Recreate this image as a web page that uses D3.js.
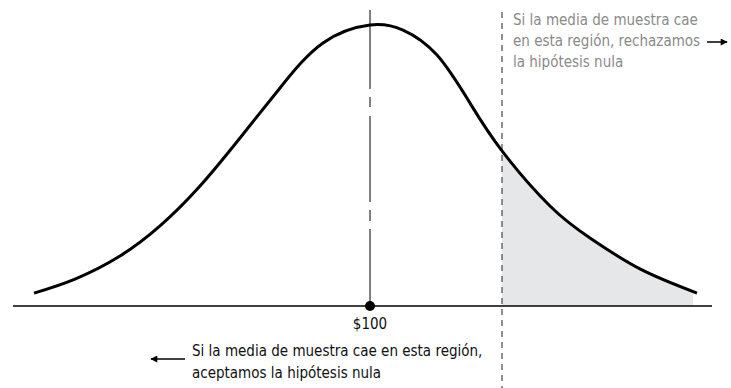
<!DOCTYPE html>
<html>
<head>
<meta charset="utf-8">
<script src="https://cdn.jsdelivr.net/npm/d3@7"></script>
<style>
  body { margin: 0; background: #fff; }
  .chart { width: 731px; height: 388px; }
  text { font-family: "Liberation Sans Narrow", "Arial Narrow", "DejaVu Sans Condensed", sans-serif; }
</style>
</head>
<body>
<div class="chart"></div>
<script>
// curve: z (standard deviations from the mean) and relative height
const zValues = [-2.688, -2.36, -2.0, -1.68, -1.36, -1.04, -0.72, -0.376, 0, 0.264, 0.536, 0.80, 1.056, 1.44, 1.76, 2.16, 2.616]
const heights = [0.046, 0.096, 0.178, 0.285, 0.427, 0.598, 0.776, 0.936, 1, 0.982, 0.893, 0.722, 0.552, 0.356, 0.242, 0.132, 0.046]

const meanLabel = '$100'
const criticalZ = 1.056
const shadeEndZ = 2.584
const axisExtent = [-2.856, 2.736]

const rejectText = ['Si la media de muestra cae', 'en esta región, rechazamos', 'la hipótesis nula']
const acceptText = ['Si la media de muestra cae en esta región,', 'aceptamos la hipótesis nula']

const data = zValues.map((z, i) => ({ z: z, h: heights[i] }))

const width = 731
const height = 388

const $chart = d3.select('.chart')
$chart.selectAll('*').remove()

const svg = $chart.append('svg')
  .attr('width', width)
  .attr('height', height)

// scales
const x = d3.scaleLinear()
  .domain([-3, 3])
  .range([-5, 745])

const y = d3.scaleLinear()
  .domain([0, 1])
  .range([306, 25])

const defs = svg.append('defs')

defs.append('clipPath')
  .attr('id', 'tail')
  .append('rect')
  .attr('x', x(criticalZ))
  .attr('y', 0)
  .attr('width', x(shadeEndZ) - x(criticalZ))
  .attr('height', height)

defs.append('marker')
  .attr('id', 'head')
  .attr('viewBox', '0 0 10 10')
  .attr('refX', 9)
  .attr('refY', 5)
  .attr('markerWidth', 9)
  .attr('markerHeight', 7)
  .attr('markerUnits', 'userSpaceOnUse')
  .attr('orient', 'auto')
  .append('path')
  .attr('d', 'M0,0 L10,5 L0,10 Z')
  .attr('fill', '#000')

const curve = d3.curveNatural

// shaded rejection region
svg.append('path')
  .datum(data)
  .attr('clip-path', 'url(#tail)')
  .attr('fill', '#e6e7e8')
  .attr('d', d3.area()
    .x(d => x(d.z))
    .y0(y(0))
    .y1(d => y(d.h))
    .curve(curve))

// baseline axis
svg.append('g')
  .attr('transform', `translate(0, ${y(0)})`)
  .call(d3.axisBottom(x).tickValues([]).tickSizeOuter(0))
  .call(g => g.select('.domain')
    .attr('d', `M${x(axisExtent[0])},0H${x(axisExtent[1])}`)
    .attr('stroke', '#000')
    .attr('stroke-width', 1.5))

// centre line at the mean
svg.append('line')
  .attr('x1', x(0))
  .attr('x2', x(0))
  .attr('y1', 10)
  .attr('y2', y(0))
  .attr('stroke', '#000')
  .attr('stroke-width', 1)
  .attr('stroke-dasharray', '79,8,10,9,86,8,11,8,200')

// critical value line
svg.append('line')
  .attr('x1', x(criticalZ))
  .attr('x2', x(criticalZ))
  .attr('y1', 12)
  .attr('y2', height)
  .attr('stroke', '#222')
  .attr('stroke-width', 1)
  .attr('stroke-dasharray', '6,5')

// the normal curve
svg.append('path')
  .datum(data)
  .attr('fill', 'none')
  .attr('stroke', '#000')
  .attr('stroke-width', 3)
  .attr('d', d3.line()
    .x(d => x(d.z))
    .y(d => y(d.h))
    .curve(curve))

svg.append('circle')
  .attr('cx', x(0))
  .attr('cy', y(0))
  .attr('r', 5)
  .attr('fill', '#000')

svg.append('text')
  .attr('x', x(0))
  .attr('y', 329)
  .attr('text-anchor', 'middle')
  .attr('font-size', 15)
  .attr('fill', '#111')
  .text(meanLabel)

// rejection note
const reject = svg.append('text')
  .attr('x', x(criticalZ) + 11)
  .attr('y', 25)
  .attr('font-size', 15)
  .attr('fill', '#8a8a8a')

reject.selectAll('tspan')
  .data(rejectText)
  .join('tspan')
  .attr('x', x(criticalZ) + 11)
  .attr('dy', (d, i) => i === 0 ? 0 : 21)
  .text(d => d)

svg.append('line')
  .attr('x1', 707)
  .attr('x2', 727)
  .attr('y1', 42)
  .attr('y2', 42)
  .attr('stroke', '#000')
  .attr('stroke-width', 1.5)
  .attr('marker-end', 'url(#head)')

// acceptance note
const accept = svg.append('text')
  .attr('x', 192)
  .attr('y', 356)
  .attr('font-size', 15)
  .attr('fill', '#111')

accept.selectAll('tspan')
  .data(acceptText)
  .join('tspan')
  .attr('x', 192)
  .attr('dy', (d, i) => i === 0 ? 0 : 22)
  .text(d => d)

svg.append('line')
  .attr('x1', 185)
  .attr('x2', 151)
  .attr('y1', 359)
  .attr('y2', 359)
  .attr('stroke', '#000')
  .attr('stroke-width', 1.5)
  .attr('marker-end', 'url(#head)')
</script>
</body>
</html>
